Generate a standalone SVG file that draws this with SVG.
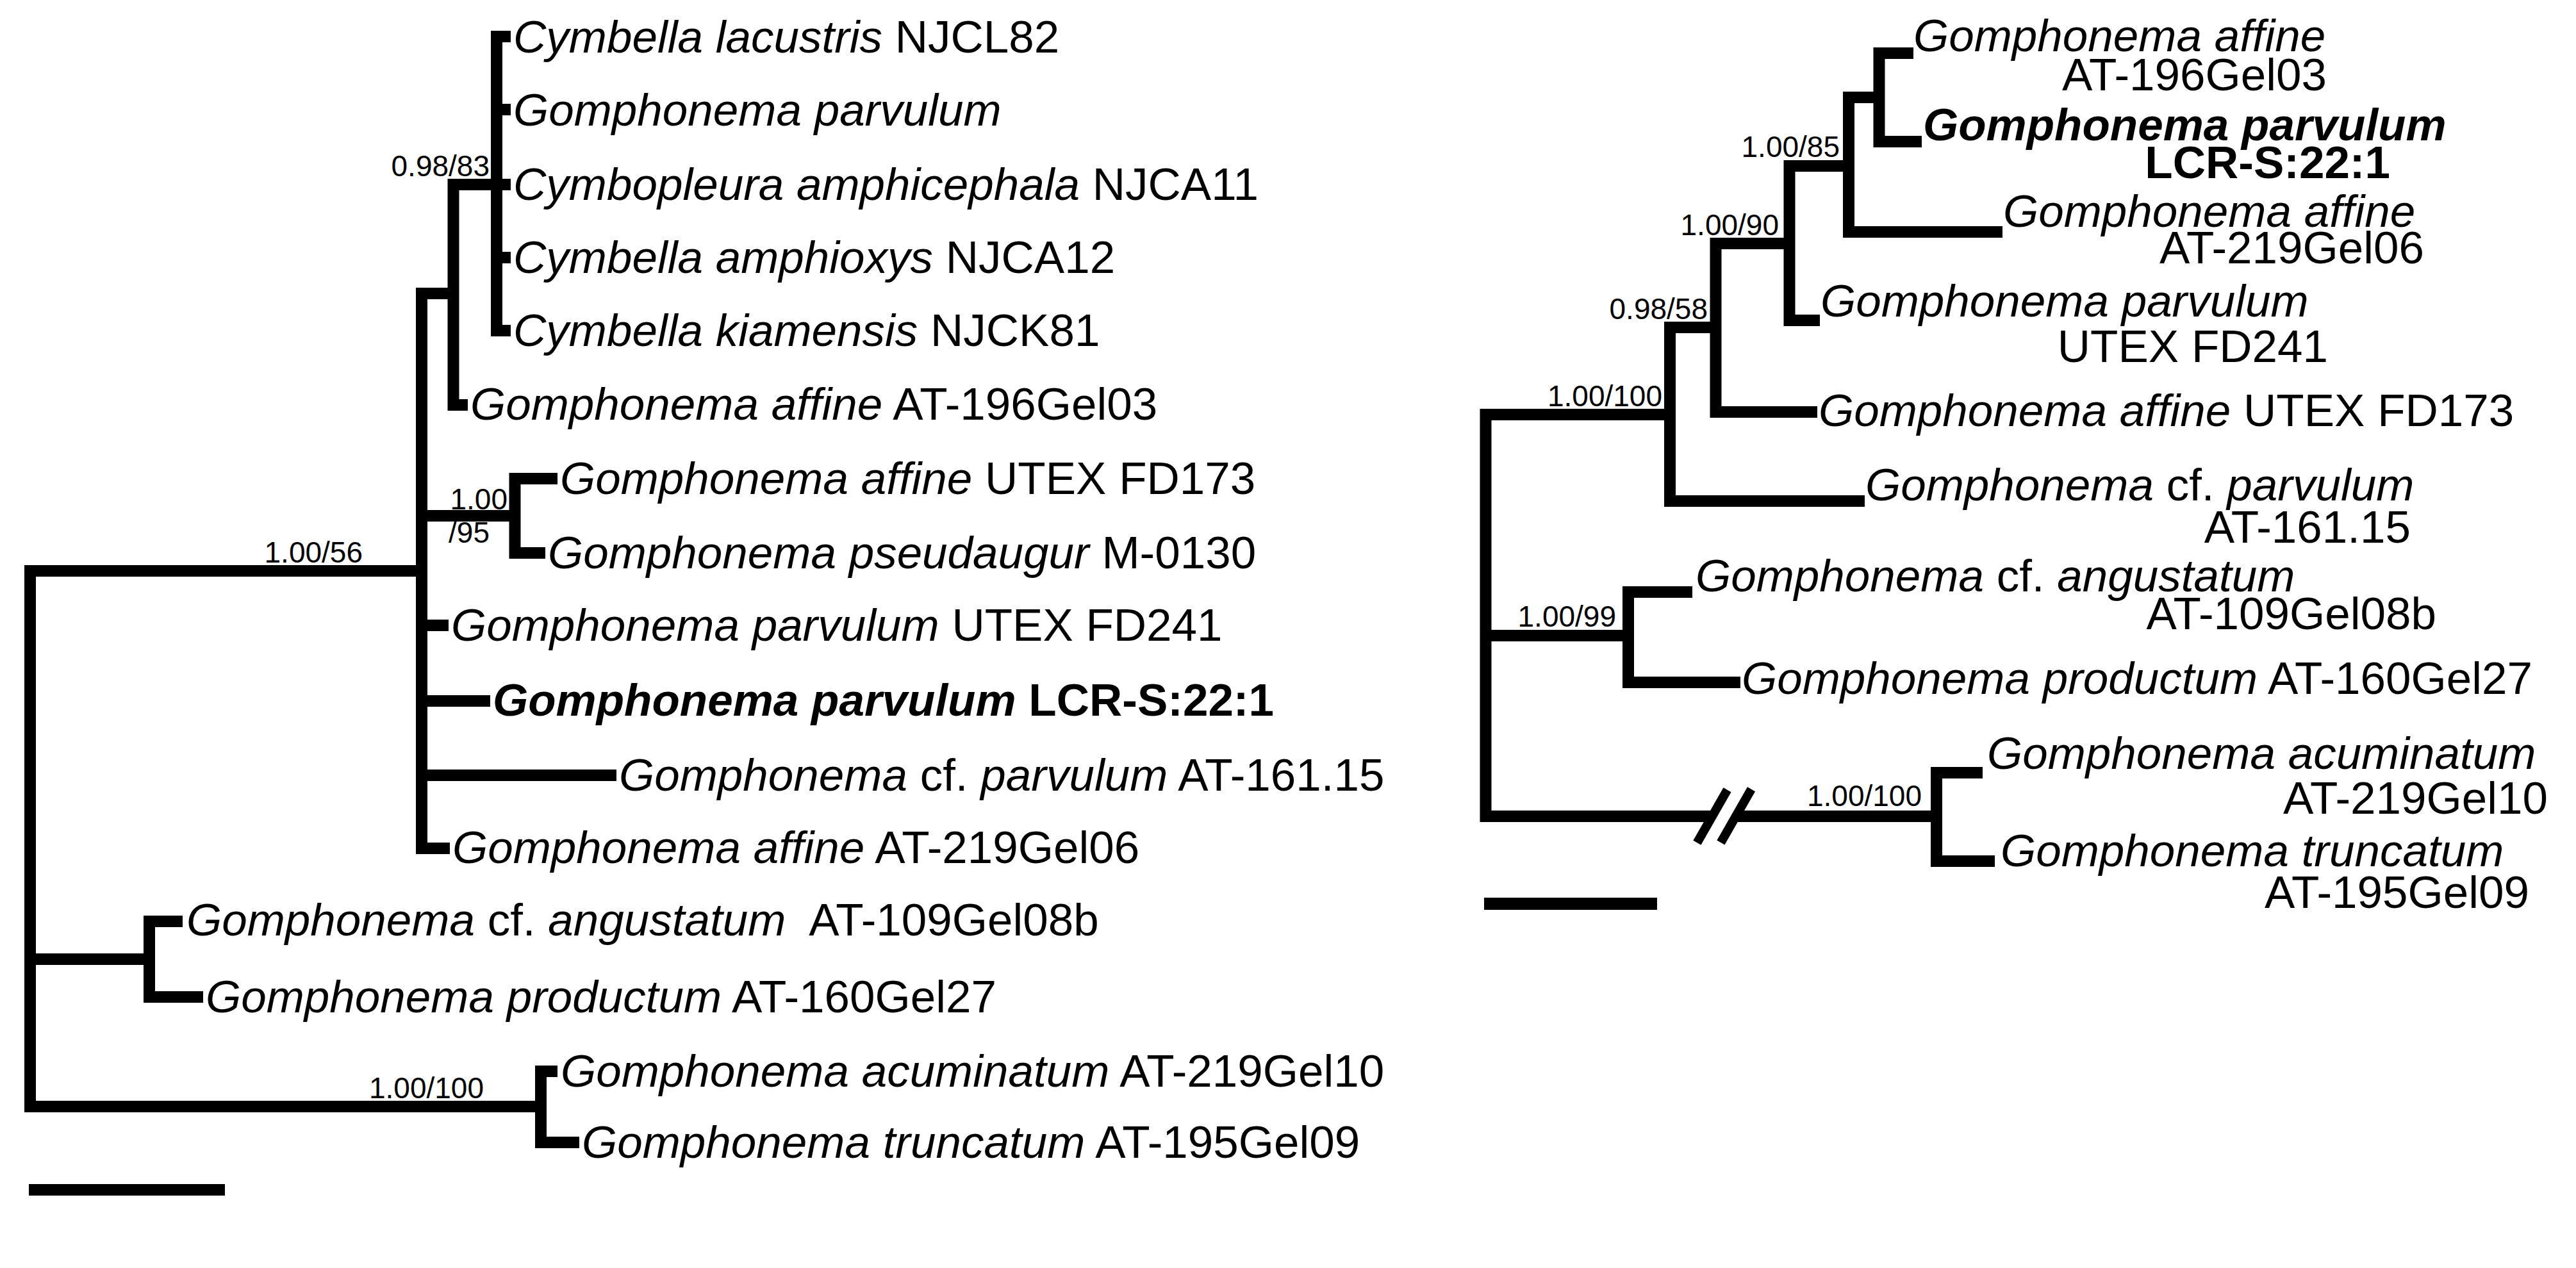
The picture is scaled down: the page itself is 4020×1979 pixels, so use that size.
<svg xmlns="http://www.w3.org/2000/svg" width="4020" height="1979" viewBox="0 0 4020 1979">
<style>
.br{fill:none;stroke:#000;stroke-width:18;stroke-linejoin:miter;stroke-linecap:butt}
.t{font-family:"Liberation Sans",Arial,sans-serif;font-size:71px;fill:#000;font-variant-ligatures:none}
.s{font-family:"Liberation Sans",Arial,sans-serif;font-size:46px;fill:#000;text-anchor:end}
.e{text-anchor:end}
.i{font-style:italic}
.b{font-weight:bold}
</style>
<rect width="4020" height="1979" fill="#fff"/>
<g id="connectors">
<path class="br" d="M658,891 H47 V1727 H844"/>
<path class="br" d="M47,1497 H233"/>
<path class="br" d="M707.5,458 H658 V1324 H702"/>
<path class="br" d="M658,805 H803.5 M658,976 H700 M658,1094 H765 M658,1210 H962"/>
<path class="br" d="M797,288 H707.5 V632 H730"/>
<path class="br" d="M797,57 H775 V516 H797 M775,171 H797 M775,402 H797"/>
<path class="br" d="M870,747 H803.5 V863 H851"/>
<path class="br" d="M285,1438 H233 V1556 H317"/>
<path class="br" d="M870,1672 H844 V1783 H904"/>
<path class="br" d="M2606,647 H2318.5 V1274 H3022"/>
<path class="br" d="M2318.5,992 H2541"/>
<path class="br" d="M2677.5,511 H2606 V782 H2910"/>
<path class="br" d="M2792.5,380 H2677.5 V643 H2836"/>
<path class="br" d="M2885,259 H2792.5 V500 H2840"/>
<path class="br" d="M2932.5,152 H2885 V362 H3125"/>
<path class="br" d="M2986,83 H2932.5 V221 H2999"/>
<path class="br" d="M2641,924 H2541 V1065 H2716"/>
<path class="br" d="M3094,1206 H3022 V1344 H3113"/>
<line x1="2714" y1="1232" x2="2667" y2="1316" stroke="#fff" stroke-width="20"/>
<line x1="2695.5" y1="1232.7" x2="2648.4" y2="1315.3" stroke="#000" stroke-width="14"/>
<line x1="2733" y1="1231.7" x2="2685.4" y2="1315" stroke="#000" stroke-width="14"/>
</g>
<g id="scale-left"><path class="br" d="M45,1857 H351"/></g>
<g id="scale-right"><path class="br" d="M2316,1410.5 H2586" style="stroke-width:19"/></g>
<g id="left-supports">
<text class="s" x="764" y="275">0.98/83</text>
<text class="s" x="792" y="795">1.00</text>
<text class="s" x="764" y="847">/95</text>
<text class="s" x="566" y="878">1.00/56</text>
<text class="s" x="755" y="1714">1.00/100</text>
</g>
<g id="left-tips">
<g id="L1"><text class="t" x="801" y="82"><tspan class="i">Cymbella lacustris</tspan> NJCL82</text></g>
<g id="L2"><text class="t" x="801" y="196"><tspan class="i">Gomphonema parvulum</tspan></text></g>
<g id="L3"><text class="t" x="801" y="312"><tspan class="i">Cymbopleura amphicephala</tspan> NJCA11</text></g>
<g id="L4"><text class="t" x="801" y="426"><tspan class="i">Cymbella amphioxys</tspan> NJCA12</text></g>
<g id="L5"><text class="t" x="801" y="540"><tspan class="i">Cymbella kiamensis</tspan> NJCK81</text></g>
<g id="L6"><text class="t" x="734" y="655"><tspan class="i">Gomphonema affine</tspan> AT-196Gel03</text></g>
<g id="L7"><text class="t" x="874" y="771"><tspan class="i">Gomphonema affine</tspan> UTEX FD173</text></g>
<g id="L8"><text class="t" x="855" y="887"><tspan class="i">Gomphonema pseudaugur</tspan> M-0130</text></g>
<g id="L9"><text class="t" x="704" y="1000"><tspan class="i">Gomphonema parvulum</tspan> UTEX FD241</text></g>
<g id="L10"><text class="t b" x="769" y="1117"><tspan class="i">Gomphonema parvulum</tspan> LCR-S:22:1</text></g>
<g id="L11"><text class="t" x="966" y="1234"><tspan class="i">Gomphonema</tspan> cf. <tspan class="i">parvulum</tspan> AT-161.15</text></g>
<g id="L12"><text class="t" x="706" y="1347"><tspan class="i">Gomphonema affine</tspan> AT-219Gel06</text></g>
<g id="L13"><text class="t" x="291" y="1460"><tspan class="i">Gomphonema</tspan> cf. <tspan class="i">angustatum</tspan> <tspan dx="20">AT-109Gel08b</tspan></text></g>
<g id="L14"><text class="t" x="321" y="1580"><tspan class="i">Gomphonema productum</tspan> AT-160Gel27</text></g>
<g id="L15"><text class="t" x="875" y="1696"><tspan class="i">Gomphonema acuminatum</tspan> AT-219Gel10</text></g>
<g id="L16"><text class="t" x="908" y="1807"><tspan class="i">Gomphonema truncatum</tspan> AT-195Gel09</text></g>
</g>
<g id="right-supports">
<text class="s" x="2871" y="245">1.00/85</text>
<text class="s" x="2776" y="367">1.00/90</text>
<text class="s" x="2665" y="498">0.98/58</text>
<text class="s" x="2594" y="634">1.00/100</text>
<text class="s" x="2522" y="978">1.00/99</text>
<text class="s" x="2999" y="1258">1.00/100</text>
</g>
<g id="right-tips">
<g id="R1"><text class="t i" x="2986" y="80">Gomphonema affine</text><text class="t e" x="3631" y="141">AT-196Gel03</text></g>
<g id="R2"><text class="t b i" x="3001" y="219">Gomphonema parvulum</text><text class="t b e" x="3730" y="278">LCR-S:22:1</text></g>
<g id="R3"><text class="t i" x="3126" y="354">Gomphonema affine</text><text class="t e" x="3783" y="411">AT-219Gel06</text></g>
<g id="R4"><text class="t i" x="2841" y="494">Gomphonema parvulum</text><text class="t e" x="3633" y="565">UTEX FD241</text></g>
<g id="R5"><text class="t" x="2838" y="665"><tspan class="i">Gomphonema affine</tspan> UTEX FD173</text></g>
<g id="R6"><text class="t" x="2911" y="781"><tspan class="i">Gomphonema</tspan> cf. <tspan class="i">parvulum</tspan></text><text class="t e" x="3762" y="847">AT-161.15</text></g>
<g id="R7"><text class="t" x="2646" y="923"><tspan class="i">Gomphonema</tspan> cf. <tspan class="i">angustatum</tspan></text><text class="t e" x="3802" y="982">AT-109Gel08b</text></g>
<g id="R8"><text class="t" x="2718" y="1083"><tspan class="i">Gomphonema productum</tspan> AT-160Gel27</text></g>
<g id="R9"><text class="t i" x="3101" y="1200">Gomphonema acuminatum</text><text class="t e" x="3976" y="1270">AT-219Gel10</text></g>
<g id="R10"><text class="t i" x="3122" y="1352">Gomphonema truncatum</text><text class="t e" x="3947" y="1417">AT-195Gel09</text></g>
</g>
</svg>
